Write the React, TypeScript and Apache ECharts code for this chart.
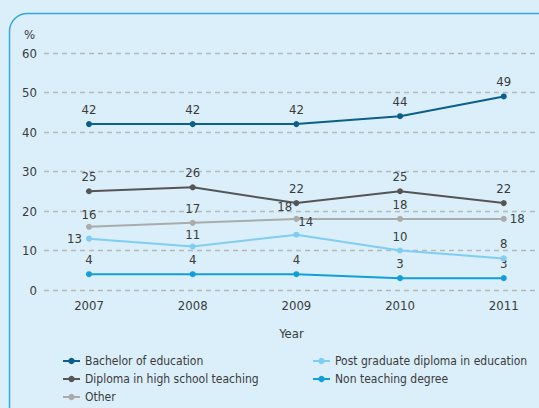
import React, { useEffect, useRef } from "react";
import * as echarts from "echarts";

const years = [2007, 2008, 2009, 2010, 2011];
const yTicks = [0, 10, 20, 30, 40, 50, 60];
const bachelor = [42, 42, 42, 44, 49];
const diploma = [25, 26, 22, 25, 22];
const other = [16, 17, 18, 18, 18];
const postGrad = [13, 11, 14, 10, 8];
const nonTeaching = [4, 4, 4, 3, 3];

const seriesNames = [
  "Bachelor of education",
  "Diploma in high school teaching",
  "Other",
  "Post graduate diploma in education",
  "Non teaching degree",
];

const FONT = '"Liberation Sans Narrow", "DejaVu Sans Condensed", "Arial Narrow", sans-serif';
const TEXT = "#3b3b3b";

export default function App() {
  const ref = useRef<HTMLDivElement>(null);
  useEffect(() => {
    if (!ref.current) return;
    const chart = echarts.init(ref.current, null, { renderer: "svg" });

    const mk = (
      name: string,
      vals: number[],
      color: string,
      z: number,
      labelPos?: Record<number, any>
    ) => ({
      name,
      type: "line",
      z,
      symbol: "circle",
      symbolSize: 6,
      lineStyle: { color, width: 2 },
      itemStyle: { color },
      label: {
        show: true,
        position: "top",
        distance: 5,
        color: TEXT,
        fontFamily: FONT,
        fontSize: 13,
      },
      data: vals.map((v, i) => {
        const item: any = { value: [years[i], v] };
        if (labelPos && labelPos[i]) item.label = labelPos[i];
        return item;
      }),
    });

    const legendSlots = [
      { left: 62, center: 361 },
      { left: 62, center: 379 },
      { left: 62, center: 397 },
      { left: 312, center: 361 },
      { left: 312, center: 379 },
    ];

    chart.setOption({
      animation: false,
      backgroundColor: "#daeff9",
      textStyle: { fontFamily: FONT },
      graphic: [
        {
          type: "rect",
          shape: { x: 9.5, y: 13.5, width: 700, height: 600, r: 18 },
          style: { fill: "none", stroke: "#34a8de", lineWidth: 1.5 },
          silent: true,
        },
      ],
      grid: { left: 44, right: 0, top: 53, bottom: 118, containLabel: false },
      xAxis: {
        type: "value",
        min: 2006.566,
        max: 2011.34,
        name: "Year",
        nameLocation: "middle",
        nameGap: 37,
        nameTextStyle: { color: TEXT, fontSize: 13, fontFamily: FONT },
        axisLine: { show: false },
        axisTick: { show: false },
        splitLine: { show: false },
        axisLabel: {
          customValues: years,
          color: TEXT,
          fontSize: 13,
          fontFamily: FONT,
          margin: 9,
          formatter: (v: number) => String(v),
        },
      },
      yAxis: {
        type: "value",
        min: 0,
        max: 60,
        interval: 10,
        name: "%",
        nameLocation: "end",
        nameGap: 12,
        nameTextStyle: { color: TEXT, fontSize: 13, fontFamily: FONT, align: "right", padding: [0, 9, 0, 0] },
        axisLine: { show: false },
        axisTick: { show: false },
        axisLabel: { color: TEXT, fontSize: 13, fontFamily: FONT, margin: 7, customValues: yTicks },
        splitLine: { lineStyle: { color: "#b9b9b9", type: [5, 4], width: 1.3 } },
      },
      legend: seriesNames.map((n, i) => ({
        orient: "vertical",
        left: legendSlots[i].left,
        top: legendSlots[i].center - 8,
        padding: 0,
        itemGap: 0,
        itemWidth: 17,
        itemHeight: 8,
        data: [n],
        textStyle: { color: TEXT, fontSize: 12, fontFamily: FONT, lineHeight: 16 },
      })),
      series: [
        mk(seriesNames[0], bachelor, "#0b5f88", 5),
        mk(seriesNames[1], diploma, "#555555", 4),
        mk(seriesNames[2], other, "#ababab", 2, {
          0: { position: "top", distance: 3 },
          2: { position: [-16, -16] },
          4: { position: "right", distance: 3 },
        }),
        mk(seriesNames[3], postGrad, "#7fcdf2", 3, {
          0: { position: "left", distance: 4 },
          1: { position: "top", distance: 3 },
          2: { position: [5, -17] },
        }),
        mk(seriesNames[4], nonTeaching, "#129fd9", 1),
      ],
    });
    return () => chart.dispose();
  }, []);
  return (
    <div
      ref={ref}
      style={{ position: "fixed", left: 0, top: 0, width: 539, height: 408 }}
    />
  );
}
